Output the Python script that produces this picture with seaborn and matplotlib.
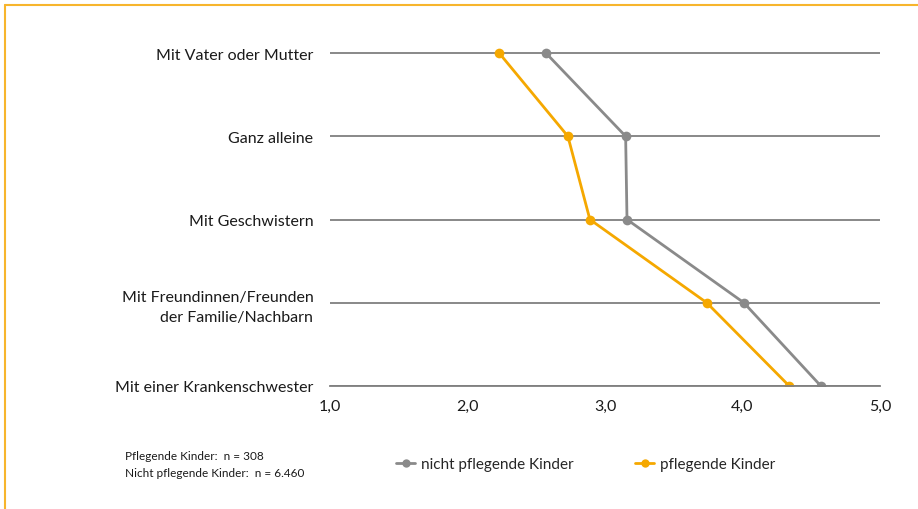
import pandas as pd
import matplotlib
matplotlib.use("Agg")
import matplotlib.pyplot as plt
import seaborn as sns
from matplotlib.lines import Line2D

# Data
kategorien = [
    "Mit Vater oder Mutter",
    "Ganz alleine",
    "Mit Geschwistern",
    "Mit Freundinnen/Freunden\nder Familie/Nachbarn",
    "Mit einer Krankenschwester",
]
nicht_pflegend = [2.57, 3.15, 3.16, 4.01, 4.57]
pflegend = [2.23, 2.73, 2.89, 3.74, 4.34]
gruppen = ["nicht pflegende Kinder", "pflegende Kinder"]
farben = {"nicht pflegende Kinder": "#8a8a8a", "pflegende Kinder": "#f5a800"}
x_labels = ["1,0", "2,0", "3,0", "4,0", "5,0"]
x_werte = [1, 2, 3, 4, 5]
tick_striche = [2.21, 3.41, 4.6]
fussnote = ["Pflegende Kinder:  n = 308", "Nicht pflegende Kinder:  n = 6.460"]

rows = []
for i, k in enumerate(kategorien):
    rows.append({"pos": i, "wert": nicht_pflegend[i], "gruppe": gruppen[0]})
    rows.append({"pos": i, "wert": pflegend[i], "gruppe": gruppen[1]})
df = pd.DataFrame(rows)

sns.set_style("white")
plt.rcParams["font.family"] = ["Lato", "DejaVu Sans"]

fig = plt.figure(figsize=(9.18, 5.10), dpi=100)
ax = fig.add_axes([0.3595, 0.2412, 0.5991, 0.7345])

sns.lineplot(data=df, x="wert", y="pos", hue="gruppe", palette=farben,
             orient="y", sort=False, marker="o", markersize=7,
             markeredgewidth=0, linewidth=2, legend=False, ax=ax)

ax.set_xlim(1, 5)
ax.set_ylim(4, -0.5)
ax.set_yticks(range(len(kategorien)))
ax.set_yticklabels(kategorien, fontsize=11.5, color="#1a1a1a")
for t in ax.get_yticklabels():
    t.set_linespacing(1.55)
ax.tick_params(axis="y", length=0, pad=12)
ax.grid(axis="y", color="#7f7f7f", linewidth=1.3)
ax.set_axisbelow(True)

# x labels without tick marks, and separate tick marks
ax.set_xticks(tick_striche)
ax.set_xticklabels([])
ax.tick_params(axis="x", length=4, width=1, color="#7f7f7f", direction="out")
ax.xaxis.set_ticks([1, 5], minor=True)
for v, lab in zip(x_werte, x_labels):
    ax.text(v, 4.15, lab, ha="center", va="top", fontsize=11.5, color="#1a1a1a",
            transform=ax.transData, clip_on=False)
ax.tick_params(axis="x", which="minor", length=4, width=1, color="#7f7f7f")

for s in ["top", "right", "left"]:
    ax.spines[s].set_visible(False)
ax.spines["bottom"].set_color("#7f7f7f")
ax.spines["bottom"].set_linewidth(1.3)
ax.set_xlabel("")
ax.set_ylabel("")

# legend
handles = [Line2D([0], [0], color=farben[g], marker="o", markersize=6,
                  markeredgewidth=0, linewidth=2) for g in gruppen]
fig.legend(handles, gruppen, loc="center left", bbox_to_anchor=(0.416, 0.088),
           ncol=2, frameon=False, fontsize=11, handlelength=1.3,
           handletextpad=0.35, columnspacing=4.0)

# footnote
fig.text(0.136, 0.104, fussnote[0], fontsize=8.5, color="#1a1a1a", va="center")
fig.text(0.136, 0.071, fussnote[1], fontsize=8.5, color="#1a1a1a", va="center")

# orange frame lines (top and left)
fig.add_artist(Line2D([0.005, 1.0], [0.988, 0.988], color="#f7b52c", linewidth=1.5,
                      transform=fig.transFigure))
fig.add_artist(Line2D([0.0055, 0.0055], [0.0, 0.988], color="#f7b52c", linewidth=1.5,
                      transform=fig.transFigure))

fig.savefig("out.png", dpi=100)
